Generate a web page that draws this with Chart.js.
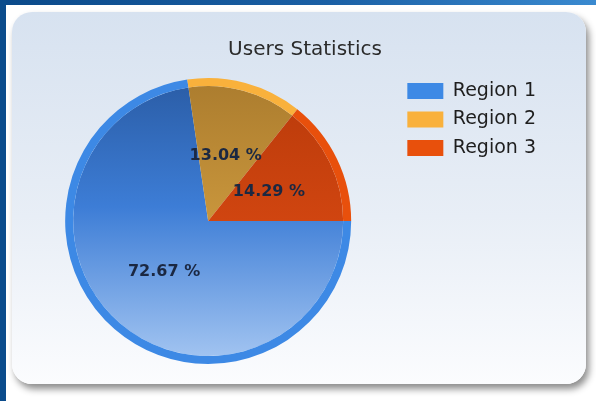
<!DOCTYPE html>
<html>
<head>
<meta charset="utf-8">
<script src="https://cdn.jsdelivr.net/npm/chart.js@4.4.0/dist/chart.umd.min.js"></script>
<style>
  html, body { margin: 0; padding: 0; background: #fff; }
  body { width: 596px; height: 401px; position: relative; overflow: hidden; }
  #topband { position: absolute; left: 0; top: 0; width: 596px; height: 5px;
    background: linear-gradient(to right, #0b4a8a, #1b60a5 55%, #3a8ad0); }
  #leftband { position: absolute; left: 0; top: 0; width: 6px; height: 401px; background: #0b4c8c; }
  #panel { position: absolute; left: 12px; top: 12px; width: 574px; height: 372px; border-radius: 20px;
    background: linear-gradient(to bottom, #d7e2f0, #e8eef6 55%, #fbfcfe);
    box-shadow: 3px 5px 7px rgba(0, 0, 0, 0.45); }
  #wrap { position: absolute; left: 0; top: 0; width: 596px; height: 401px; }
</style>
</head>
<body>
<div id="topband"></div>
<div id="leftband"></div>
<div id="panel"></div>
<div id="wrap"><canvas id="chart" width="596" height="401"></canvas></div>
<script>
const chartTitle = 'Users Statistics'
const categories = ['Region 1', 'Region 2', 'Region 3']
const shares = [72.67, 13.04, 14.29]

// slice colours: bright outer rim + shaded inner face
const rimColors = ['#3d89e5', '#f9b13c', '#e8500c']
const faceStops = [
    [[0, '#2a5ca5'], [0.45, '#3d7dd6'], [1, '#a6c7f2']],
    [[0, '#ab7c2e'], [0.5, '#c9963c'], [1, '#d8a850']],
    [[0, '#b83a0a'], [0.5, '#d04510'], [1, '#dc5418']]
]
const PIE_R = 143

function faceColor(ctx) {
    const chart = ctx.chart
    const area = chart.chartArea
    if (!area) return rimColors[ctx.dataIndex]
    const cy = (area.top + area.bottom) / 2
    const g = chart.ctx.createLinearGradient(0, cy - PIE_R, 0, cy + PIE_R)
    faceStops[ctx.dataIndex].forEach(s => g.addColorStop(s[0], s[1]))
    return g
}

const pctLabels = {
    id: 'pctLabels',
    afterDatasetsDraw(chart) {
        const meta = chart.getDatasetMeta(1)
        const c = chart.ctx
        c.save()
        c.font = 'bold 16px "DejaVu Sans"'
        c.fillStyle = '#1b2842'
        c.textAlign = 'center'
        c.textBaseline = 'middle'
        meta.data.forEach((arc, i) => {
            const p = arc.tooltipPosition()
            c.fillText(shares[i].toFixed(2) + ' %', p.x, p.y)
        })
        c.restore()
    }
}

// the title sits centred over the whole panel, not over pie + legend
const titleShift = {
    id: 'titleShift',
    afterLayout(chart) {
        const t = chart.titleBlock
        const dx = 305 - (t.left + t.right) / 2
        t.left += dx
        t.right += dx
    }
}

const chart = new Chart(document.getElementById('chart').getContext('2d'), {
    type: 'pie',
    data: {
        labels: categories,
        datasets: [
            { data: shares, backgroundColor: rimColors, borderWidth: 0, weight: 8 },
            { data: shares, backgroundColor: faceColor, borderWidth: 0, weight: 135 }
        ]
    },
    options: {
        responsive: false,
        devicePixelRatio: 1,
        animation: false,
        rotation: 90,
        radius: PIE_R,
        layout: { padding: { top: 30, bottom: 31, left: 18.5, right: 50 } },
        plugins: {
            tooltip: { enabled: false },
            title: {
                display: true,
                text: chartTitle,
                color: '#2b2b2b',
                font: { family: 'DejaVu Sans', size: 20, weight: 'normal' },
                padding: { top: 7.5, bottom: 10.5 }
            },
            legend: {
                position: 'right',
                align: 'start',
                fullSize: false,
                labels: {
                    boxWidth: 36,
                    boxHeight: 16,
                    padding: 9.5,
                    color: '#1e1e1e',
                    font: { family: 'DejaVu Sans', size: 19 }
                }
            }
        }
    },
    plugins: [pctLabels, titleShift]
})
</script>
</body>
</html>
